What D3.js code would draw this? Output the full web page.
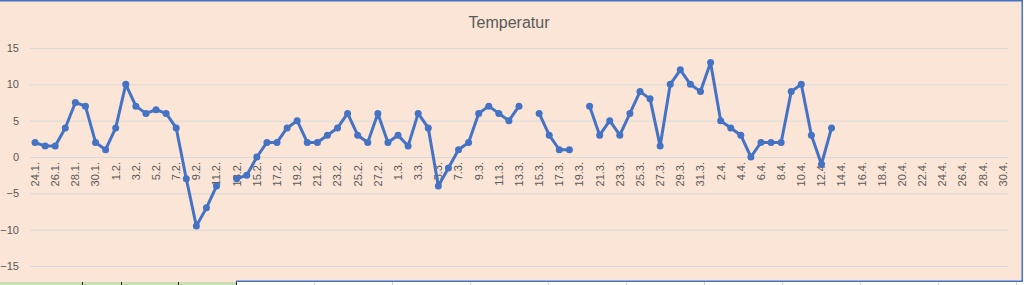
<!DOCTYPE html>
<html>
<head>
<meta charset="utf-8">
<script src="https://cdn.jsdelivr.net/npm/d3@7"></script>
<style>
  body { margin: 0; background: #fff; }
  svg { display: block; }
</style>
</head>
<body>
<script>
const width = 1024;
const height = 285;

// category labels, one per day (24.1. - 30.4.)
const days = [
  "24.1.", "25.1.", "26.1.", "27.1.", "28.1.", "29.1.", "30.1.", "31.1.",
  "1.2.", "2.2.", "3.2.", "4.2.", "5.2.", "6.2.", "7.2.", "8.2.", "9.2.", "10.2.",
  "11.2.", "12.2.", "13.2.", "14.2.", "15.2.", "16.2.", "17.2.", "18.2.", "19.2.", "20.2.",
  "21.2.", "22.2.", "23.2.", "24.2.", "25.2.", "26.2.", "27.2.", "28.2.",
  "1.3.", "2.3.", "3.3.", "4.3.", "5.3.", "6.3.", "7.3.", "8.3.", "9.3.", "10.3.",
  "11.3.", "12.3.", "13.3.", "14.3.", "15.3.", "16.3.", "17.3.", "18.3.", "19.3.", "20.3.",
  "21.3.", "22.3.", "23.3.", "24.3.", "25.3.", "26.3.", "27.3.", "28.3.", "29.3.", "30.3.", "31.3.",
  "1.4.", "2.4.", "3.4.", "4.4.", "5.4.", "6.4.", "7.4.", "8.4.", "9.4.", "10.4.",
  "11.4.", "12.4.", "13.4.", "14.4.", "15.4.", "16.4.", "17.4.", "18.4.", "19.4.", "20.4.",
  "21.4.", "22.4.", "23.4.", "24.4.", "25.4.", "26.4.", "27.4.", "28.4.", "29.4.", "30.4."
];

// temperature per day, null = no reading
const temps = [
  2, 1.5, 1.5, 4, 7.5, 7, 2, 1,                       // 24.1 - 31.1
  4, 10, 7, 6, 6.5, 6, 4, -3, -9.5, -7,               // 1.2 - 10.2
  -4, null, -3, -2.5, 0, 2, 2, 4, 5, 2,               // 11.2 - 20.2
  2, 3, 4, 6, 3, 2, 6, 2,                             // 21.2 - 28.2
  3, 1.5, 6, 4, -4, -1.5, 1, 2, 6, 7,                 // 1.3 - 10.3
  6, 5, 7, null, 6, 3, 1, 1, null, 7,                 // 11.3 - 20.3
  3, 5, 3, 6, 9, 8, 1.5, 10, 12, 10, 9,               // 21.3 - 31.3
  13, 5, 4, 3, 0, 2, 2, 2, 9, 10,                     // 1.4 - 10.4
  3, -1, 4, null, null, null, null, null, null, null, // 11.4 - 20.4
  null, null, null, null, null, null, null, null, null, null // 21.4 - 30.4
];

const yTicks = [-15, -10, -5, 0, 5, 10, 15];

const series = days.map((d, i) => ({ day: d, value: temps[i] }));

const svg = d3.select("body")
  .append("svg")
  .attr("width", width)
  .attr("height", height)
  .style("font-family", "'Liberation Sans', Arial, sans-serif");

// spreadsheet strip below the chart
svg.append("rect")
  .attr("x", 0).attr("y", 281).attr("width", width).attr("height", 4)
  .attr("fill", "#ffffff");
svg.append("rect")
  .attr("x", 0).attr("y", 282).attr("width", 236).attr("height", 3)
  .attr("fill", "#c6e0b4");
[82, 121, 178, 236].forEach(x => {
  svg.append("line")
    .attr("x1", x + 0.5).attr("x2", x + 0.5).attr("y1", 282).attr("y2", 285)
    .attr("stroke", "#222");
});
d3.range(314, 1024, 78).forEach(x => {
  svg.append("line")
    .attr("x1", x + 0.5).attr("x2", x + 0.5).attr("y1", 282).attr("y2", 285)
    .attr("stroke", "#d4d4d4");
});

// chart area
svg.append("rect")
  .attr("x", 0).attr("y", 0).attr("width", 1022).attr("height", 282)
  .attr("fill", "#fbe5d6");

// selection border of the chart (top, right, bottom)
svg.append("path")
  .attr("d", "M0,0.75H1022.25V281.25H236")
  .attr("fill", "none")
  .attr("stroke", "#4472c4")
  .attr("stroke-width", 1.5);

const x = d3.scaleBand()
  .domain(days)
  .range([30, 1008]);

const y = d3.scaleLinear()
  .domain([-15, 15])
  .range([266, 48]);

const cx = d => x(d.day) + x.bandwidth() / 2;

// title
svg.append("text")
  .attr("x", 509)
  .attr("y", 28)
  .attr("text-anchor", "middle")
  .attr("fill", "#595959")
  .style("font-size", "16px")
  .text("Temperatur");

// gridlines + y labels
const yAxis = svg.append("g")
  .attr("transform", "translate(30,0)")
  .call(d3.axisLeft(y).tickValues(yTicks).tickSize(-978).tickPadding(11));
yAxis.select(".domain").remove();
yAxis.selectAll(".tick line")
  .attr("stroke", "#d9d9d9")
  .attr("stroke-width", 1);
yAxis.selectAll(".tick text")
  .attr("fill", "#595959")
  .style("font-size", "11px")
  .style("font-family", "'Liberation Sans', Arial, sans-serif");

// x axis labels at zero line, every second day
const xAxis = svg.append("g")
  .attr("transform", `translate(0,${y(0)})`);
xAxis.selectAll("text")
  .data(days.filter((d, i) => i % 2 === 0))
  .join("text")
  .attr("transform", d => `translate(${x(d) + x.bandwidth() / 2},5) rotate(-90)`)
  .attr("dy", "0.35em")
  .attr("text-anchor", "end")
  .attr("fill", "#595959")
  .style("font-size", "11px")
  .text(d => d);

// line
const line = d3.line()
  .defined(d => d.value != null)
  .x(cx)
  .y(d => y(d.value));

svg.append("path")
  .datum(series)
  .attr("d", line)
  .attr("fill", "none")
  .attr("stroke", "#4472c4")
  .attr("stroke-width", 3)
  .attr("stroke-linejoin", "round")
  .attr("stroke-linecap", "round");

svg.append("g")
  .selectAll("circle")
  .data(series.filter(d => d.value != null))
  .join("circle")
  .attr("cx", cx)
  .attr("cy", d => y(d.value))
  .attr("r", 3.5)
  .attr("fill", "#4472c4");
</script>
</body>
</html>
